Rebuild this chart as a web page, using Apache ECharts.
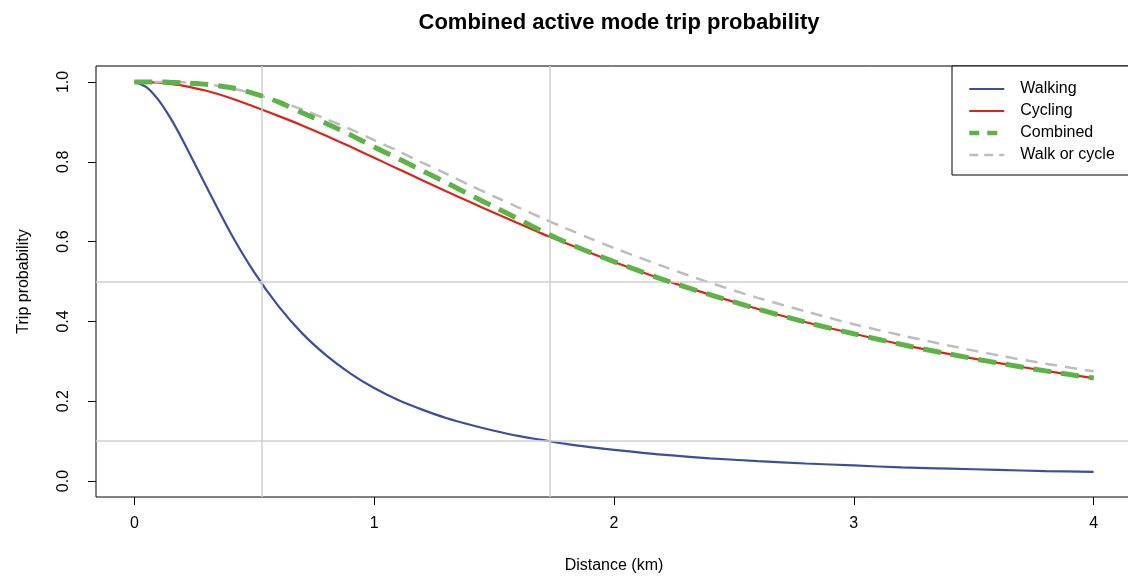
<!DOCTYPE html>
<html>
<head>
<meta charset="utf-8">
<script src="https://cdn.jsdelivr.net/npm/echarts@6/dist/echarts.min.js"></script>
<style>
html,body{margin:0;padding:0;background:#fff;}
#chart{width:1128px;height:576px;}
</style>
</head>
<body>
<div id="chart"></div>
<script>
const distance = [0,0.05,0.1,0.15,0.2,0.3,0.4,0.5,0.6,0.7,0.8,0.9,1.0,1.1,1.2,1.3,1.4,1.5,1.6,1.7,1.8,1.9,2.0,2.2,2.4,2.6,2.8,3.0,3.2,3.4,3.6,3.8,4.0];
const walking = [1.0,0.987,0.955,0.910,0.856,0.738,0.623,0.523,0.439,0.370,0.315,0.270,0.233,0.203,0.179,0.158,0.141,0.126,0.113,0.103,0.093,0.085,0.078,0.066,0.057,0.050,0.044,0.039,0.034,0.031,0.028,0.025,0.023];
const cycling = [1.0,0.9995,0.998,0.995,0.991,0.978,0.960,0.938,0.915,0.891,0.865,0.838,0.810,0.782,0.754,0.726,0.699,0.672,0.646,0.620,0.596,0.572,0.549,0.506,0.467,0.431,0.398,0.369,0.342,0.318,0.296,0.276,0.258];
const combined = [1.0,1.0,1.0,0.999,0.998,0.994,0.986,0.971,0.950,0.923,0.896,0.868,0.837,0.808,0.778,0.748,0.717,0.687,0.657,0.626,0.598,0.573,0.550,0.506,0.467,0.431,0.398,0.369,0.342,0.318,0.296,0.276,0.258];
const walkOrCycle = [1.0,1.0,1.0,1.0,0.999,0.994,0.985,0.970,0.952,0.931,0.907,0.882,0.854,0.827,0.798,0.770,0.741,0.713,0.686,0.659,0.633,0.608,0.584,0.539,0.497,0.459,0.425,0.393,0.365,0.339,0.315,0.294,0.275];
const xTicks = [0,1,2,3,4];
const yTicks = [0,0.2,0.4,0.6,0.8,1.0];
const refX = [0.525,1.725];
const refY = [0.5,0.1];

const pairs = arr => distance.map((d,i)=>[d,arr[i]]);
const FONT = '"Liberation Sans", Arial, sans-serif';

const chart = echarts.init(document.getElementById('chart'), null, {renderer:'canvas'});
chart.setOption({
  animation:false,
  backgroundColor:'#fff',
  title:{
    text:'Combined active mode trip probability',
    left:614, top:7, textAlign:'center',
    textStyle:{fontFamily:FONT,fontWeight:'bold',fontSize:22,color:'#000'}
  },
  legend:{
    data:[
      {name:'Walking', lineStyle:{color:'#3c4f9b', width:2.2, type:'solid'}},
      {name:'Cycling', lineStyle:{color:'#d9261c', width:2.2, type:'solid'}},
      {name:'Combined', lineStyle:{color:'#5cb346', width:4.5, type:[10,8]}},
      {name:'Walk or cycle', lineStyle:{color:'#bdbdbd', width:2.5, type:[9,6]}}
    ],
    orient:'vertical',
    left:952, top:66,
    padding:[15,40,12,15],
    itemWidth:35, itemHeight:16, itemGap:6,
    itemStyle:{opacity:0},
    borderColor:'#000', borderWidth:1, borderRadius:0,
    backgroundColor:'#fff',
    textStyle:{fontFamily:FONT,fontSize:16,color:'#000',padding:[0,0,0,11]}
  },
  grid:{left:96, top:66, width:1036, height:431, show:true, borderColor:'#000', borderWidth:1,
        backgroundColor:'transparent', containLabel:false, outerBoundsMode:'none'},
  xAxis:{
    type:'value', min:-0.16, max:4.16,
    name:'Distance (km)', nameLocation:'middle', nameGap:61,
    nameTextStyle:{fontFamily:FONT,fontSize:16,color:'#000'},
    axisLine:{show:false, onZero:false},
    axisTick:{show:true, length:8, lineStyle:{color:'#000'}, customValues:xTicks},
    axisLabel:{fontFamily:FONT,fontSize:16,color:'#000',margin:19,customValues:xTicks,formatter:v=>String(v)},
    splitLine:{show:false}
  },
  yAxis:{
    type:'value', min:-0.04, max:1.04,
    name:'Trip probability', nameLocation:'middle', nameGap:64,
    nameTextStyle:{fontFamily:FONT,fontSize:16,color:'#000'},
    axisLine:{show:false, onZero:false},
    axisTick:{show:true, length:8, lineStyle:{color:'#000'}, customValues:yTicks},
    axisLabel:{fontFamily:FONT,fontSize:16,color:'#000',margin:24,rotate:90,customValues:yTicks,formatter:v=>v.toFixed(1)},
    splitLine:{show:false}
  },
  series:[
    {
      name:'ref', type:'line', data:[], z:1, silent:true,
      markLine:{
        silent:true, symbol:['none','none'], label:{show:false},
        lineStyle:{color:'#d0d0d0', type:'solid', width:1.5},
        data: refX.map(v=>({xAxis:v})).concat(refY.map(v=>({yAxis:v})))
      }
    },
    {name:'Walking', type:'line', data:pairs(walking), smooth:0.3, symbol:'none', z:3,
     lineStyle:{color:'#3c4f9b', width:2.2}, itemStyle:{color:'#3c4f9b'}},
    {name:'Cycling', type:'line', data:pairs(cycling), smooth:0.3, symbol:'none', z:3,
     lineStyle:{color:'#d9261c', width:2.2}, itemStyle:{color:'#d9261c'}},
    {name:'Walk or cycle', type:'line', data:pairs(walkOrCycle), smooth:0.3, symbol:'none', z:4,
     lineStyle:{color:'#bdbdbd', width:2.5, type:[12,8]}, itemStyle:{color:'#bdbdbd'}},
    {name:'Combined', type:'line', data:pairs(combined), smooth:0.3, symbol:'none', z:5,
     lineStyle:{color:'#5cb346', width:5, type:[18,10]}, itemStyle:{color:'#5cb346'}}
  ]
});
</script>
</body>
</html>
